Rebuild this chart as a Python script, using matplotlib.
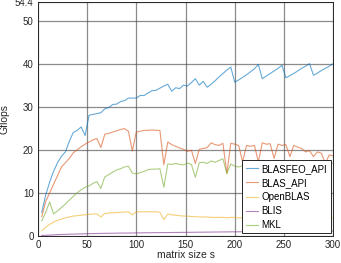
import matplotlib
matplotlib.use("Agg")
import matplotlib.pyplot as plt

# matrix sizes (step 4)
sizes = list(range(4, 301, 4))

blasfeo_api = [5.5, 9.5, 12.5, 15.0, 17.0, 18.5, 19.5, 22.0, 24.0, 24.5,
               25.3, 23.3, 28.0, 28.2, 28.4, 28.6, 29.5, 29.8, 30.5, 30.6,
               31.2, 31.4, 32.0, 32.0, 32.0, 32.6, 32.6, 33.2, 33.7, 33.8,
               34.3, 34.8, 35.2, 33.6, 34.4, 34.2, 35.0, 34.8, 35.6, 36.5,
               35.0, 35.9, 34.5, 35.2, 36.0, 36.9, 37.7, 38.5, 39.2, 35.7,
               36.2, 36.8, 37.4, 38.1, 38.8, 39.8, 36.5, 37.1, 37.7, 38.3,
               38.9, 39.6, 36.7, 37.2, 37.7, 38.3, 38.9, 39.4, 40.0, 37.3,
               37.8, 38.4, 38.9, 39.4, 40.0]

blas_api = [4.5, 8.0, 10.0, 12.0, 14.0, 16.0, 17.0, 18.0, 19.3, 20.0,
            20.7, 21.3, 21.8, 22.3, 22.6, 20.5, 23.6, 23.8, 24.1, 24.4,
            24.7, 24.9, 24.3, 19.7, 24.1, 24.3, 24.5, 24.5, 24.6, 24.5,
            24.5, 16.5, 21.8, 21.2, 20.8, 20.4, 20.1, 19.6, 19.9, 16.8,
            20.1, 20.3, 20.5, 21.6, 21.2, 21.0, 21.5, 14.5, 21.5, 21.3,
            21.0, 17.2, 21.0, 20.8, 21.0, 17.2, 21.6, 21.3, 21.4, 18.0,
            21.3, 21.0, 21.2, 18.4, 21.0, 20.6, 20.3, 19.5, 19.8, 18.4,
            19.5, 19.2, 16.8, 18.8, 18.6]

openblas = [1.2, 2.0, 2.7, 3.2, 3.6, 3.9, 4.2, 4.4, 4.6, 4.7,
            4.8, 4.9, 5.0, 5.1, 5.1, 4.4, 5.2, 5.3, 5.4, 5.4,
            5.5, 5.5, 5.6, 4.9, 5.6, 5.6, 5.6, 5.6, 5.6, 5.6,
            5.5, 3.8, 5.1, 4.9, 4.8, 4.7, 4.6, 4.6, 4.5, 4.5,
            4.4, 4.4, 4.4, 4.3, 4.3, 4.3, 4.3, 4.2, 4.3, 4.3,
            4.2, 4.2, 4.2, 4.2, 4.2, 4.1, 4.2, 4.2, 4.2, 4.1,
            4.2, 4.2, 4.2, 4.1, 4.2, 4.2, 4.2, 4.2, 4.2, 4.1,
            4.2, 4.2, 4.1, 4.2, 4.2]

blis = [0.10, 0.15, 0.20, 0.25, 0.30, 0.33, 0.36, 0.40, 0.42, 0.45,
        0.47, 0.50, 0.52, 0.54, 0.56, 0.58, 0.60, 0.61, 0.62, 0.64,
        0.65, 0.66, 0.67, 0.68, 0.70, 0.71, 0.72, 0.73, 0.74, 0.75,
        0.76, 0.77, 0.78, 0.79, 0.80, 0.81, 0.82, 0.83, 0.84, 0.85,
        0.86, 0.87, 0.88, 0.89, 0.90, 0.91, 0.92, 0.93, 0.94, 0.95,
        0.96, 0.97, 0.98, 0.99, 1.00, 1.00, 1.01, 1.02, 1.03, 1.04,
        1.05, 1.05, 1.06, 1.07, 1.08, 1.08, 1.09, 1.10, 1.10, 1.11,
        1.12, 1.12, 1.13, 1.14, 1.15]

mkl = [3.5, 5.5, 7.9, 5.1, 5.8, 6.6, 7.4, 8.3, 9.2, 10.0,
       10.7, 11.3, 11.6, 12.2, 12.6, 11.0, 13.7, 14.2, 14.8, 15.3,
       15.6, 16.0, 16.2, 14.6, 14.4, 14.7, 15.0, 15.4, 15.5, 15.5,
       15.6, 11.3, 16.7, 16.6, 16.8, 16.6, 16.5, 16.9, 16.6, 13.6,
       17.0, 17.1, 16.8, 17.4, 17.1, 17.5, 17.9, 14.5, 16.7, 16.2,
       16.0, 16.3, 16.5, 16.6, 16.6, 14.0, 16.7, 16.8, 16.6, 16.7,
       16.8, 16.9, 16.7, 14.2, 16.8, 16.9, 16.7, 16.8, 16.9, 16.8,
       16.8, 16.9, 14.3, 16.8, 16.9]

names = ["BLASFEO_API", "BLAS_API", "OpenBLAS", "BLIS", "MKL"]
colors = ["#0072bd", "#d95319", "#edb120", "#7e2f8e", "#77ac30"]
yticks = [0, 10, 20, 30, 40, 50, 54.4]
ytick_labels = ["0", "10", "20", "30", "40", "50", "54.4"]

plt.rcParams['font.family'] = ['Liberation Sans', 'DejaVu Sans']

fig = plt.figure(figsize=(3.41, 2.63), dpi=100)
ax = fig.add_axes([0.111, 0.103, 0.866, 0.891])

for data, name, c in zip([blasfeo_api, blas_api, openblas, blis, mkl], names, colors):
    ax.plot(sizes, data, color=c, lw=0.8, alpha=0.6, label=name)

ax.set_xlim(0, 300)
ax.set_ylim(0, 54.4)
ax.set_xticks(range(0, 301, 50))
ax.set_yticks(yticks)
ax.set_yticklabels(ytick_labels)
ax.grid(True, color="#4d4d4d", lw=0.9, alpha=0.65)
ax.tick_params(labelsize=7, colors="#262626", length=0, pad=3)
for sp in ax.spines.values():
    sp.set_color("#262626")
    sp.set_linewidth(0.7)

ax.set_xlabel("matrix size s", fontsize=7.5, color="#262626", labelpad=0)
ax.set_ylabel("Gflops", fontsize=7.5, color="#262626", labelpad=4)

leg = ax.legend(loc="lower right", fontsize=7, fancybox=False, framealpha=1,
                edgecolor="#262626", handlelength=1.3, handletextpad=0.35,
                borderpad=0.35, labelspacing=0.42, borderaxespad=0.25)
leg.get_frame().set_linewidth(0.7)

fig.savefig("out.png", dpi=100)
